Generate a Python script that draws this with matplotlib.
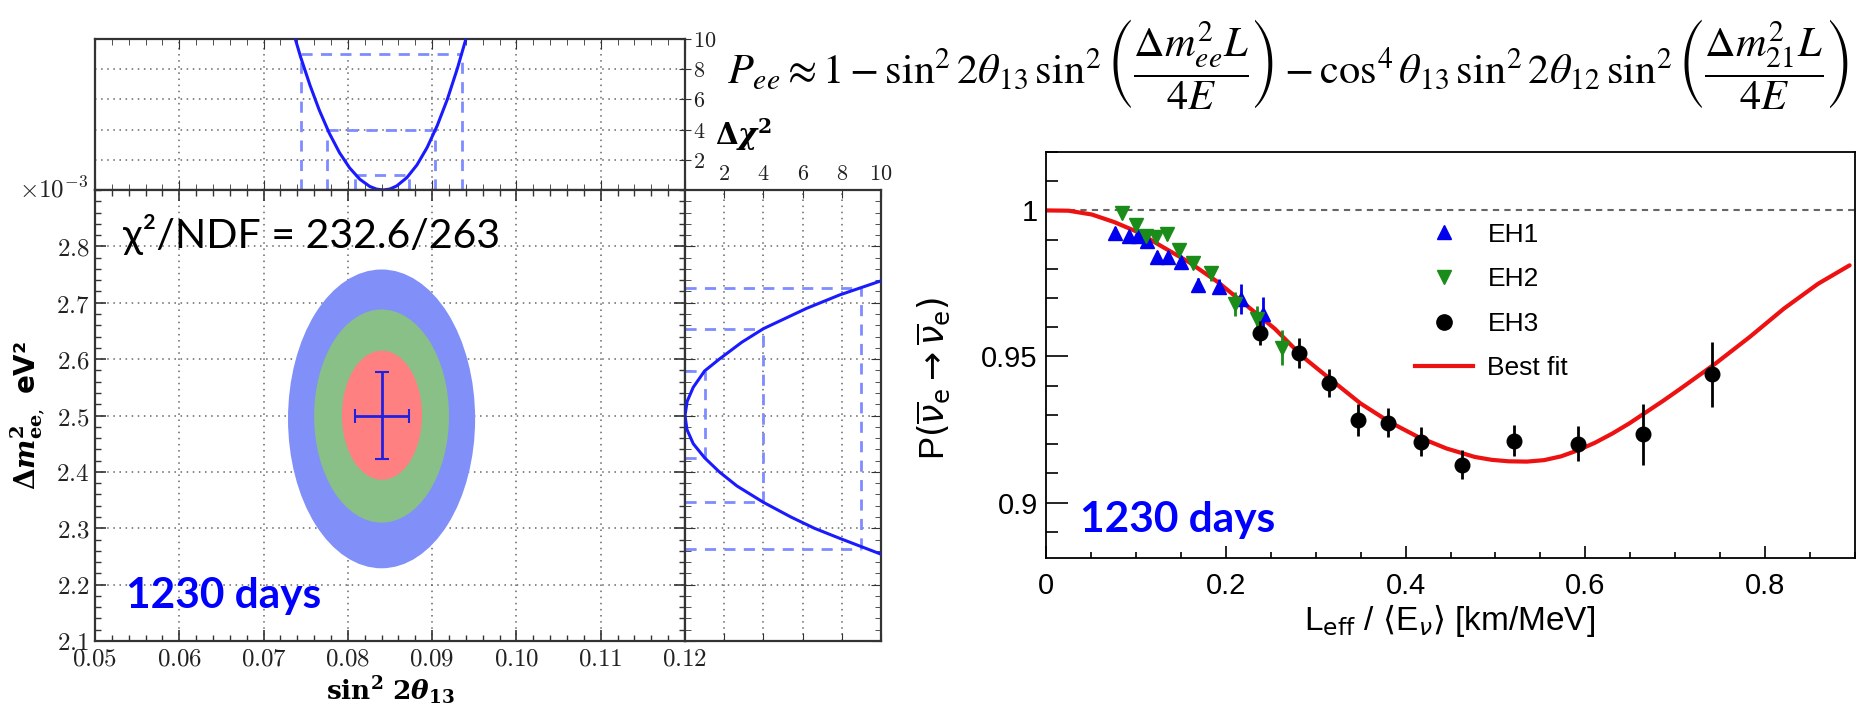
import numpy as np
import matplotlib
matplotlib.use('Agg')
import matplotlib.pyplot as plt
from matplotlib.patches import Ellipse
from matplotlib.lines import Line2D
from matplotlib.ticker import MultipleLocator, FixedLocator, FuncFormatter, FormatStrFormatter

plt.rcParams['mathtext.fontset'] = 'cm'

# ---------------- data: left (contour) panel ----------------
best_s2t = 0.0840
best_dm2 = 2.500
best_s2t_err = 0.0032
best_dm2_err = 0.077
# contour extents for 1, 2, 3 sigma (sin^2 2theta13 ; dm2_ee in 1e-3 eV^2)
cont_x_lo = [0.0793, 0.0760, 0.0729]
cont_x_hi = [0.0888, 0.0920, 0.0951]
cont_y_lo = [2.386, 2.310, 2.229]
cont_y_hi = [2.615, 2.688, 2.759]
cont_colors = ['#ff8080', '#88c088', '#8090f8']

# top panel: delta chi2 profile vs sin^2 2theta13
top_x = [0.0735, 0.0744, 0.0755, 0.0766, 0.0778, 0.0790, 0.0802, 0.0814, 0.0826, 0.0834,
         0.0842, 0.0850, 0.0858, 0.0870, 0.0882, 0.0894, 0.0906, 0.0918, 0.0930, 0.0940, 0.0946]
top_chi = [10.5, 8.8, 6.95, 5.3, 3.76, 2.48, 1.47, 0.72, 0.235, 0.06,
           0.0, 0.067, 0.27, 0.82, 1.66, 2.81, 4.26, 6.0, 8.06, 9.99, 11.25]
chi_levels = [1, 4, 9]
top_lo = [0.0808, 0.0775, 0.0744]
top_hi = [0.0872, 0.0903, 0.0936]

# side panel: delta chi2 profile vs dm2_ee
side_dm2 = [2.740, 2.714, 2.690, 2.654, 2.630, 2.600, 2.579, 2.550, 2.525, 2.500,
            2.475, 2.450, 2.425, 2.400, 2.375, 2.346, 2.320, 2.300, 2.282, 2.262, 2.250]
side_chi = [10.1, 7.9, 6.2, 4.0, 2.9, 1.75, 1.0, 0.42, 0.11, 0.0,
            0.1, 0.42, 1.0, 1.75, 2.65, 4.0, 5.4, 6.6, 7.9, 9.4, 10.3]
side_lo = [2.425, 2.346, 2.264]
side_hi = [2.579, 2.654, 2.726]

main_xticks = [0.05, 0.06, 0.07, 0.08, 0.09, 0.10, 0.11, 0.12]
main_yticks = [2.1, 2.2, 2.3, 2.4, 2.5, 2.6, 2.7, 2.8]
chi_ticks = [2, 4, 6, 8, 10]

# ---------------- data: right (survival probability) panel ----------------
eh1_x = [0.0771, 0.0920, 0.1020, 0.1123, 0.1230, 0.1360, 0.1500, 0.1695, 0.1930, 0.2169, 0.2418]
eh1_y = [0.9924, 0.9912, 0.9914, 0.9897, 0.9842, 0.9842, 0.9823, 0.9745, 0.9739, 0.9697, 0.9647]
eh1_e = [0.0018, 0.0018, 0.0018, 0.0018, 0.0018, 0.0018, 0.0020, 0.0025, 0.0025, 0.0052, 0.0057]

eh2_x = [0.0845, 0.0997, 0.1112, 0.1224, 0.1342, 0.1476, 0.1639, 0.1840, 0.2100, 0.2348, 0.2625]
eh2_y = [0.9991, 0.9950, 0.9914, 0.9909, 0.9919, 0.9865, 0.9821, 0.9785, 0.9680, 0.9628, 0.9530]
eh2_e = [0.0020, 0.0020, 0.0020, 0.0020, 0.0020, 0.0020, 0.0022, 0.0025, 0.0040, 0.0045, 0.0060]

eh3_x = [0.238, 0.282, 0.315, 0.347, 0.380, 0.417, 0.463, 0.521, 0.592, 0.664, 0.741]
eh3_y = [0.9580, 0.9512, 0.9410, 0.9282, 0.9273, 0.9208, 0.9130, 0.9212, 0.9202, 0.9233, 0.9439]
eh3_e = [0.0040, 0.0052, 0.0048, 0.0054, 0.0050, 0.0050, 0.0050, 0.0054, 0.0060, 0.0103, 0.0112]

fit_x = [0.0, 0.025, 0.051, 0.076, 0.102, 0.127, 0.159, 0.191, 0.223, 0.2545, 0.286, 0.318,
         0.350, 0.382, 0.4136, 0.4455, 0.477, 0.496, 0.515, 0.535, 0.554, 0.573, 0.592, 0.611,
         0.630, 0.649, 0.668, 0.687, 0.706, 0.7445, 0.783, 0.821, 0.859, 0.894]
fit_y = [1.0, 0.9999, 0.9986, 0.9960, 0.9926, 0.9880, 0.9823, 0.9755, 0.9675, 0.9595, 0.9498,
         0.9418, 0.9339, 0.9276, 0.9225, 0.9185, 0.9156, 0.9146, 0.9141, 0.9140, 0.9145, 0.9158,
         0.9179, 0.9205, 0.9236, 0.9271, 0.9310, 0.9349, 0.9390, 0.9475, 0.9567, 0.9664, 0.9749,
         0.9812]

r_xticks = [0, 0.2, 0.4, 0.6, 0.8]
r_yticks = [0.9, 0.95, 1.0]
legend_labels = ['EH1', 'EH2', 'EH3', 'Best fit']

# ---------------- figure ----------------
W, H = 1858, 708
fig = plt.figure(figsize=(W / 100, H / 100), dpi=100)


def rect(x0, y0, x1, y1):
    return [x0 / W, 1 - y1 / H, (x1 - x0) / W, (y1 - y0) / H]


ax_top = fig.add_axes(rect(95, 39, 685, 190))
ax_main = fig.add_axes(rect(95, 190, 685, 641))
ax_side = fig.add_axes(rect(685, 190, 881, 641))
ax_r = fig.add_axes(rect(1046, 152, 1855, 558))

spine_c = '#333333'
grid_kw = dict(ls=(0, (1, 3)), color='#666666', lw=1.1)
curve_c = '#1a1aff'
dash_c = '#7f8cff'
dash_ls = (0, (4, 3))
calib = ['Lato', 'Open Sans', 'DejaVu Sans']

for a in (ax_top, ax_main, ax_side):
    for s in a.spines.values():
        s.set_color(spine_c)
        s.set_linewidth(1.6)
    a.set_axisbelow(True)
    a.grid(True, which='major', **grid_kw)

# main panel
ax_main.set_xlim(0.05, 0.12)
ax_main.set_ylim(2.1, 2.9)
for i in (2, 1, 0):
    cx = 0.5 * (cont_x_lo[i] + cont_x_hi[i])
    cy = 0.5 * (cont_y_lo[i] + cont_y_hi[i])
    ax_main.add_patch(Ellipse((cx, cy), cont_x_hi[i] - cont_x_lo[i], cont_y_hi[i] - cont_y_lo[i],
                              facecolor=cont_colors[i], edgecolor='none', zorder=2))
ax_main.errorbar([best_s2t], [best_dm2], xerr=[best_s2t_err], yerr=[best_dm2_err],
                 fmt='none', ecolor='#2020e0', elinewidth=2, capsize=5, capthick=1.5, zorder=3)
ax_main.xaxis.set_major_locator(FixedLocator(main_xticks))
ax_main.xaxis.set_minor_locator(MultipleLocator(0.002))
ax_main.yaxis.set_major_locator(FixedLocator(main_yticks))
ax_main.yaxis.set_minor_locator(MultipleLocator(0.02))
ax_main.xaxis.set_major_formatter(FuncFormatter(lambda v, p: '$%.2f$' % v))
ax_main.yaxis.set_major_formatter(FuncFormatter(lambda v, p: '$%.1f$' % v))
ax_main.tick_params(which='both', direction='in', top=True, right=True, colors=spine_c,
                    labelcolor='#222222', labelsize=18)
ax_main.tick_params(which='major', length=8, width=1.2, pad=4)
ax_main.tick_params(which='minor', length=4, width=1.0)
ax_main.text(-0.012, 1.0, r'$\times10^{-3}$', transform=ax_main.transAxes, ha='right', va='center',
             fontsize=18, color='#222222')
ax_main.text(0.047, 0.871, 'χ²/NDF = 232.6/263', transform=ax_main.transAxes, ha='left',
             va='baseline', fontsize=29.5, family=calib, color='black')
ax_main.text(0.0525, 0.073, '1230 days', transform=ax_main.transAxes, ha='left', va='baseline',
             fontsize=30.5, fontweight='bold', family=calib, color='#0000ff')
xl = ax_main.set_xlabel(r'$\mathbf{sin^2\ 2}\mathbfit{\theta}_{\mathbf{13}}$', fontsize=19,
                        math_fontfamily='dejavuserif')
xl.set_verticalalignment('center')
ax_main.xaxis.set_label_coords(0.5, -0.109)
yl = ax_main.set_ylabel(r'$\mathbf{\Delta}\mathbfit{m}^{\mathbf{2}}_{\mathbf{ee},}$ eV²', fontsize=20,
                        fontweight='bold', family='DejaVu Sans', math_fontfamily='dejavuserif')
yl.set_verticalalignment('center')
ax_main.yaxis.set_label_coords(-0.1136, 0.501)

# top panel
ax_top.set_xlim(0.05, 0.12)
ax_top.set_ylim(0, 10)
ax_top.plot(top_x, top_chi, color=curve_c, lw=2.2, zorder=3)
for lv, lo, hi in zip(chi_levels, top_lo, top_hi):
    ax_top.plot([lo, hi], [lv, lv], color=dash_c, lw=2, ls=dash_ls, zorder=2)
    ax_top.plot([lo, lo], [0, lv], color=dash_c, lw=2, ls=dash_ls, zorder=2)
    ax_top.plot([hi, hi], [0, lv], color=dash_c, lw=2, ls=dash_ls, zorder=2)
ax_top.xaxis.set_major_locator(FixedLocator(main_xticks))
ax_top.xaxis.set_minor_locator(MultipleLocator(0.002))
ax_top.yaxis.set_major_locator(FixedLocator(chi_ticks))
ax_top.yaxis.set_major_formatter(FuncFormatter(lambda v, p: '$%d$' % v))
ax_top.tick_params(axis='x', which='both', direction='in', top=True, bottom=True, labelbottom=False,
                   colors=spine_c)
ax_top.tick_params(axis='x', which='major', length=7)
ax_top.tick_params(axis='x', which='minor', length=4)
ax_top.tick_params(axis='y', which='both', direction='inout', left=False, right=True, labelleft=False,
                   labelright=True, length=8, labelsize=16, pad=2, colors=spine_c, labelcolor='#222222')

# side panel
ax_side.set_xlim(0, 10)
ax_side.set_ylim(2.1, 2.9)
ax_side.plot(side_chi, side_dm2, color=curve_c, lw=2.2, zorder=3)
for lv, lo, hi in zip(chi_levels, side_lo, side_hi):
    ax_side.plot([0, lv], [lo, lo], color=dash_c, lw=2, ls=dash_ls, zorder=2)
    ax_side.plot([0, lv], [hi, hi], color=dash_c, lw=2, ls=dash_ls, zorder=2)
    ax_side.plot([lv, lv], [lo, hi], color=dash_c, lw=2, ls=dash_ls, zorder=2)
ax_side.xaxis.set_major_locator(FixedLocator(chi_ticks))
ax_side.xaxis.set_major_formatter(FuncFormatter(lambda v, p: '$%d$' % v))
ax_side.yaxis.set_major_locator(FixedLocator(main_yticks))
ax_side.yaxis.set_minor_locator(MultipleLocator(0.02))
ax_side.tick_params(axis='x', which='both', direction='in', top=True, bottom=True, labeltop=True,
                    labelbottom=False, length=6, labelsize=16, pad=4, colors=spine_c, labelcolor='#222222')
ax_side.tick_params(axis='y', which='both', direction='in', left=True, right=True, labelleft=False,
                    colors=spine_c)
ax_side.tick_params(axis='y', which='major', length=7)
ax_side.tick_params(axis='y', which='minor', length=4)

fig.text(743 / W, 1 - 135 / H, r'$\mathbf{\Delta}\mathbfit{\chi}^{\mathbf{2}}$', ha='center', va='center',
         fontsize=21, color='black', math_fontfamily='dejavuserif')

# formula
fig.text(1288 / W, 1 - 64 / H,
         r'$P_{ee} \approx 1 - \sin^2 2\theta_{13}\,\sin^2\left(\dfrac{\Delta m^2_{ee}L}{4E}\right)'
         r' - \cos^4\theta_{13}\,\sin^2 2\theta_{12}\,\sin^2\left(\dfrac{\Delta m^2_{21}L}{4E}\right)$',
         ha='center', va='center', fontsize=30.5, math_fontfamily='stix', color='black')

# ---------------- right panel ----------------
sans = 'Liberation Sans'
ax_r.set_xlim(0, 0.9)
ax_r.set_ylim(0.881, 1.02)
ax_r.axhline(1.0, color='#666666', lw=1.5, ls=(0, (3, 2.5)), zorder=1)
ax_r.plot(fit_x, fit_y, color='#ee1111', lw=3, zorder=2, solid_capstyle='round', solid_joinstyle='round')
ax_r.errorbar(eh1_x, eh1_y, yerr=eh1_e, fmt='^', color='#0000ee', ms=9.5, elinewidth=2, capsize=0, zorder=3)
ax_r.errorbar(eh2_x, eh2_y, yerr=eh2_e, fmt='v', color='#1a8c1a', ms=9.5, elinewidth=2, capsize=0, zorder=3)
ax_r.errorbar(eh3_x, eh3_y, yerr=eh3_e, fmt='o', color='black', ms=10.5, elinewidth=2, capsize=0, zorder=4)
for s in ax_r.spines.values():
    s.set_linewidth(1.3)
ax_r.xaxis.set_major_locator(FixedLocator(r_xticks))
ax_r.xaxis.set_minor_locator(MultipleLocator(0.05))
ax_r.yaxis.set_major_locator(FixedLocator(r_yticks))
ax_r.yaxis.set_minor_locator(MultipleLocator(0.01))
ax_r.xaxis.set_major_formatter(FormatStrFormatter('%g'))
ax_r.yaxis.set_major_formatter(FormatStrFormatter('%g'))
ax_r.tick_params(which='both', direction='in', top=False, right=False, labelsize=21, width=1.2)
ax_r.tick_params(axis='y', which='major', length=16, pad=6)
ax_r.tick_params(axis='y', which='minor', length=8.5)
ax_r.tick_params(axis='x', which='major', length=9, pad=10)
ax_r.tick_params(axis='x', which='minor', length=4.5)
for lab in ax_r.get_xticklabels() + ax_r.get_yticklabels():
    lab.set_family(sans)
rxl = ax_r.set_xlabel(r'L$_{\rm eff}$ / $\langle$E$_{\nu}\rangle$ [km/MeV]', fontsize=24, family=sans,
                      math_fontfamily='dejavusans')
rxl.set_verticalalignment('center')
ax_r.xaxis.set_label_coords(0.4994, -0.153)
ryl = ax_r.set_ylabel(r'P$(\overline{\nu}_{\rm e} \rightarrow \overline{\nu}_{\rm e})$', fontsize=25,
                      family=sans, math_fontfamily='dejavusans')
ryl.set_verticalalignment('center')
ax_r.yaxis.set_label_coords(-0.140, 0.443)

handles = [Line2D([], [], marker='^', ls='none', color='#0000ee', ms=10),
           Line2D([], [], marker='v', ls='none', color='#1a8c1a', ms=10),
           Line2D([], [], marker='o', ls='none', color='black', ms=11),
           Line2D([], [], color='#ee1111', lw=3)]
leg = ax_r.legend(handles, legend_labels, loc='upper left', bbox_to_anchor=(0.456, 0.826), frameon=False,
                  prop={'family': sans, 'size': 19}, handlelength=2.2, handletextpad=0.55,
                  labelspacing=0.78, borderaxespad=0, borderpad=0)
ax_r.text(0.042, 0.064, '1230 days', transform=ax_r.transAxes, ha='left', va='baseline', fontsize=30.5,
          fontweight='bold', family=calib, color='#0000ff')

fig.savefig('out.png', dpi=100)
